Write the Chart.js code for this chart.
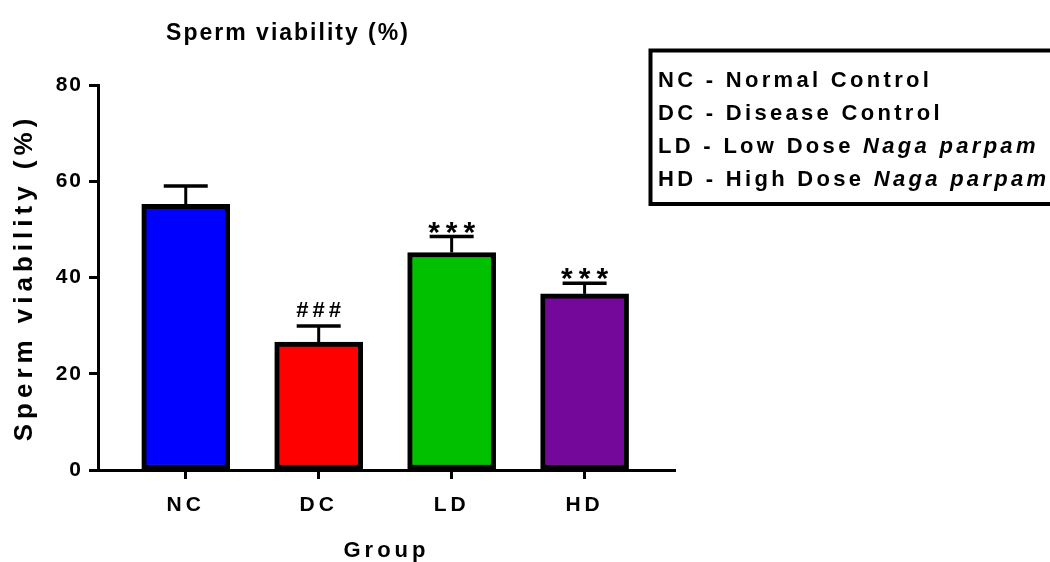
<!DOCTYPE html>
<html>
<head>
<meta charset="utf-8">
<script src="https://cdn.jsdelivr.net/npm/chart.js@4.4.1/dist/chart.umd.min.js"></script>
<style>
html,body{margin:0;padding:0;background:#ffffff;}
#wrap{width:1050px;height:562px;position:relative;}
canvas{display:block;}
</style>
</head>
<body>
<div id="wrap"><canvas id="c" width="1050" height="562"></canvas></div>
<script>
// ---- data ----
const categories = ['NC', 'DC', 'LD', 'HD'];
const meanValues = [55.2, 26.6, 45.2, 36.6];
const semValues = [3.8, 3.3, 3.3, 2.2];
const barColors = ['#0000FF', '#FF0000', '#00C000', '#74089A'];
const significance = ['', '###', '***', '***'];
const yTickValues = [0, 20, 40, 60, 80];
const chartTitle = 'Sperm viability (%)';
const yTitle = 'Sperm viability (%)';
const xTitle = 'Group';
const legendLines = [
  [['NC - Normal Control', false]],
  [['DC - Disease Control', false]],
  [['LD - Low Dose ', false], ['Naga parpam', true]],
  [['HD - High Dose ', false], ['Naga parpam', true]]
];

const FAMILY = "'Liberation Sans', Arial, Helvetica, sans-serif";

function spacedText(ctx, text, x, y, spacing, align) {
  ctx.save();
  ctx.letterSpacing = spacing + 'px';
  ctx.textAlign = 'left';
  const w = ctx.measureText(text).width - spacing;
  let sx = x;
  if (align === 'center') sx = x - w / 2;
  else if (align === 'right') sx = x - w;
  ctx.fillText(text, sx, y);
  ctx.restore();
  return w + spacing;
}

function wrapSpacing(scale, method, spacing) {
  const key = '_sp_' + method;
  if (scale[key]) return;
  const orig = scale[method];
  scale[method] = function () {
    const ctx = this.ctx;
    const prev = ctx.letterSpacing;
    ctx.letterSpacing = spacing + 'px';
    orig.apply(this, arguments);
    ctx.letterSpacing = prev;
  };
  scale[key] = true;
}

const decorPlugin = {
  id: 'decor',
  beforeDraw(chart) {
    wrapSpacing(chart.scales.x, 'drawLabels', 4);
    wrapSpacing(chart.scales.y, 'drawLabels', 2);
    wrapSpacing(chart.scales.x, 'drawTitle', 4);
    wrapSpacing(chart.scales.y, 'drawTitle', 5);
  },
  afterDatasetsDraw(chart) {
    const ctx = chart.ctx;
    const xs = chart.scales.x, ys = chart.scales.y;
    ctx.save();
    ctx.strokeStyle = '#000';
    ctx.fillStyle = '#000';
    for (let i = 0; i < categories.length; i++) {
      const x = xs.getPixelForValue(i);
      const yTop = ys.getPixelForValue(meanValues[i]);
      const yCap = ys.getPixelForValue(meanValues[i] + semValues[i]);
      ctx.lineWidth = 3;
      ctx.beginPath();
      ctx.moveTo(x, yTop);
      ctx.lineTo(x, yCap);
      ctx.stroke();
      ctx.lineWidth = 3.5;
      ctx.beginPath();
      ctx.moveTo(x - 22, yCap);
      ctx.lineTo(x + 22, yCap);
      ctx.stroke();
      const s = significance[i];
      if (s) {
        ctx.textBaseline = 'alphabetic';
        if (s[0] === '*') {
          ctx.font = 'bold 30px ' + FAMILY;
          spacedText(ctx, s, x, yCap + 5, 6, 'center');
        } else {
          ctx.font = 'bold 22px ' + FAMILY;
          spacedText(ctx, s, x, yCap - 9, 4, 'center');
        }
      }
    }
    ctx.restore();
  },
  afterDraw(chart) {
    const ctx = chart.ctx;
    ctx.save();
    ctx.fillStyle = '#000';
    // chart title
    ctx.font = 'bold 23px ' + FAMILY;
    ctx.textBaseline = 'alphabetic';
    spacedText(ctx, chartTitle, 287, 40, 2, 'center');
    // legend box
    ctx.strokeStyle = '#000';
    ctx.lineWidth = 4;
    ctx.strokeRect(650.5, 50.5, 420, 153.5);
    const baselines = [87, 120, 153, 186];
    for (let i = 0; i < legendLines.length; i++) {
      let x = 658;
      for (const seg of legendLines[i]) {
        ctx.font = (seg[1] ? 'italic bold 22px ' : 'bold 22px ') + FAMILY;
        x += spacedText(ctx, seg[0], x, baselines[i], 3.3, 'left');
      }
    }
    ctx.restore();
  }
};

const ctx = document.getElementById('c').getContext('2d');
new Chart(ctx, {
  type: 'bar',
  data: {
    datasets: [{
      data: categories.map((c, i) => ({ x: i, y: meanValues[i] })),
      backgroundColor: barColors,
      borderColor: '#000000',
      borderWidth: 5,
      borderSkipped: false,
      barThickness: 88
    }]
  },
  options: {
    responsive: false,
    animation: false,
    devicePixelRatio: 1,
    layout: { padding: { top: 85, right: 375, left: 0, bottom: 0 } },
    plugins: { legend: { display: false }, tooltip: { enabled: false }, title: { display: false } },
    scales: {
      x: {
        type: 'linear',
        offset: false,
        min: -0.66,
        max: 3.68,
        afterBuildTicks: (s) => { s.ticks = categories.map((c, i) => ({ value: i })); },
        afterFit: (s) => { s.height = 92; },
        ticks: {
          callback: (v) => categories[Math.round(v)],
          font: { family: FAMILY, size: 21, weight: 'bold' },
          color: '#000',
          padding: 14,
          maxRotation: 0,
          autoSkip: false
        },
        grid: { offset: false, drawOnChartArea: false, drawTicks: true, tickLength: 9, tickWidth: 3, tickColor: '#000' },
        border: { display: true, width: 3, color: '#000' },
        title: {
          display: true, text: xTitle, color: '#000',
          font: { family: FAMILY, size: 22, weight: 'bold', lineHeight: 1 },
          padding: { top: 0, bottom: 0 }
        }
      },
      y: {
        min: 0,
        max: 80,
        afterBuildTicks: (s) => { s.ticks = yTickValues.map(v => ({ value: v })); },
        afterFit: (s) => { s.width = 98; },
        ticks: {
          font: { family: FAMILY, size: 21, weight: 'bold' },
          color: '#000',
          padding: 6
        },
        grid: { drawOnChartArea: false, drawTicks: true, tickLength: 9, tickWidth: 3, tickColor: '#000' },
        border: { display: true, width: 3, color: '#000' },
        title: {
          display: true, text: yTitle, color: '#000',
          font: { family: FAMILY, size: 26, weight: 'bold', lineHeight: 1 },
          padding: { top: 12, bottom: 0 }
        }
      }
    }
  },
  plugins: [decorPlugin]
});
</script>
</body>
</html>
